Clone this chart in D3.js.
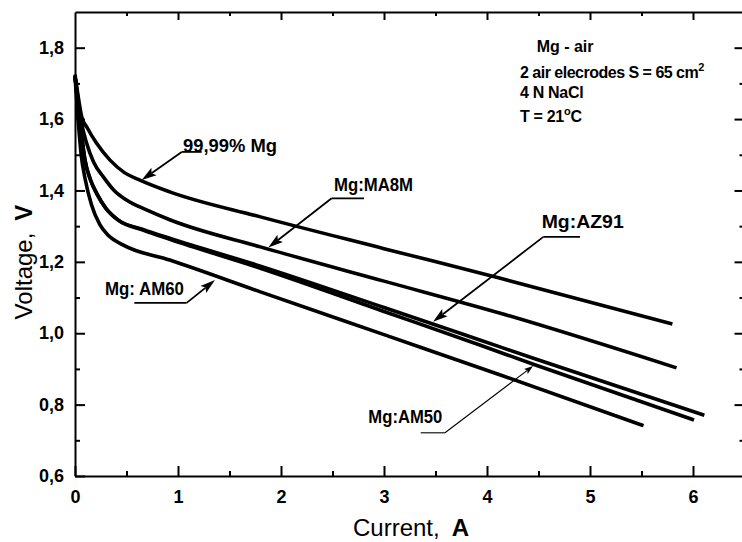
<!DOCTYPE html>
<html><head><meta charset="utf-8">
<script src="https://cdn.jsdelivr.net/npm/d3@7"></script>
<style>
html,body{margin:0;padding:0;background:#fff;}
svg{display:block;}
text{font-family:Arial,"Liberation Sans",Helvetica,sans-serif;fill:#000;}
</style></head><body>
<svg id="chart" width="742" height="542"></svg>
<script>
// ---------- data (current in A, voltage in V) ----------
const currentPure  = [0, 0.03, 0.065, 0.12, 0.21, 0.34, 0.48, 0.63, 0.92, 1.8, 3.0, 4.13, 5.8];
const voltagePure  = [1.725, 1.665, 1.607, 1.575, 1.532, 1.485, 1.450, 1.429, 1.396, 1.326, 1.237, 1.154, 1.026];

const currentMA8M  = [0, 0.03, 0.06, 0.113, 0.18, 0.275, 0.38, 0.5, 0.7, 0.92, 1.8, 3.0, 4.13, 5.84];
const voltageMA8M  = [1.72, 1.655, 1.595, 1.532, 1.48, 1.438, 1.40, 1.373, 1.345, 1.318, 1.242, 1.146, 1.056, 0.903];

const currentAZ91  = [0, 0.03, 0.06, 0.097, 0.15, 0.21, 0.3, 0.42, 0.66, 0.92, 1.8, 3.0, 3.93, 4.45, 6.11];
const voltageAZ91  = [1.72, 1.64, 1.565, 1.485, 1.43, 1.392, 1.35, 1.317, 1.291, 1.266, 1.188, 1.072, 0.981, 0.93, 0.770];

const currentAM50  = [0, 0.03, 0.06, 0.097, 0.15, 0.21, 0.3, 0.42, 0.66, 0.92, 1.8, 3.0, 3.93, 4.45, 6.01];
const voltageAM50  = [1.72, 1.64, 1.565, 1.485, 1.43, 1.392, 1.35, 1.317, 1.289, 1.263, 1.182, 1.061, 0.967, 0.913, 0.757];

const currentAM60  = [0, 0.03, 0.06, 0.1, 0.16, 0.24, 0.32, 0.47, 0.92, 1.8, 3.0, 4.13, 5.52];
const voltageAM60  = [1.72, 1.60, 1.50, 1.43, 1.36, 1.305, 1.275, 1.247, 1.205, 1.116, 0.996, 0.883, 0.741];

const xMajorTicks = [0, 1, 2, 3, 4, 5, 6];
const xTickLabels = ["0", "1", "2", "3", "4", "5", "6"];
const xMinorTicks = [0.5, 1.5, 2.5, 3.5, 4.5, 5.5];
const yMajorTicks = [0.6, 0.8, 1.0, 1.2, 1.4, 1.6, 1.8];
const yTickLabels = ["0,6", "0,8", "1,0", "1,2", "1,4", "1,6", "1,8"];
const yMinorTicks = [0.7, 0.9, 1.1, 1.3, 1.5, 1.7];

// curve labels: text, text anchor (A,V), underline from/to (A), underline V, leader start (A,V), arrow tip (A,V)
const labelNames   = ["99,99% Mg", "Mg:MA8M", "Mg:AZ91", "Mg: AM60", "Mg:AM50"];
const labelTextPos = [[1.048, 1.509], [2.515, 1.398], [4.531, 1.294], [0.291, 1.107], [2.848, 0.749]];
const labelWidths  = [94, 79, 82, 79, 74];
const underlineX   = [[1.036, 1.230], [2.492, 2.806], [4.547, 4.903], [0.576, 1.084], [3.356, 3.592]];
const underlineV   = [1.508, 1.378, 1.270, 1.085, 0.721];
const leaderStart  = [[1.036, 1.508], [2.492, 1.378], [4.547, 1.270], [1.084, 1.085], [3.592, 0.721]];
const arrowTip     = [[0.648, 1.429], [1.877, 1.240], [3.476, 1.032], [1.359, 1.149], [4.447, 0.908]];
const leaderThin   = [false, false, false, false, true];

const infoLines = ["Mg - air", "2 air elecrodes S = 65 cm", "4 N NaCl", "T = 21"];
const infoPos   = [[4.482, 1.788], [4.32, 1.714], [4.32, 1.658], [4.32, 1.592]];

// ---------- build ----------
const series = [
  {name: "99,99% Mg", I: currentPure, V: voltagePure},
  {name: "Mg:MA8M",  I: currentMA8M, V: voltageMA8M},
  {name: "Mg:AZ91",  I: currentAZ91, V: voltageAZ91},
  {name: "Mg:AM50",  I: currentAM50, V: voltageAM50},
  {name: "Mg:AM60",  I: currentAM60, V: voltageAM60}
];

const svg = d3.select("#chart");
const plotLeft = 75, plotTop = 12, plotBottom = 476;
const x = d3.scaleLinear().domain([0, 6.5]).range([plotLeft, plotLeft + 6.5 * 103]);
const y = d3.scaleLinear().domain([0.6, 1.9]).range([plotBottom, plotTop]);
const plotRight = x(6.5);

function styleAxis(g, fs) {
  g.select(".domain").attr("stroke", "#000").attr("stroke-width", 2);
  g.selectAll(".tick line").attr("stroke", "#000").attr("stroke-width", 2);
  g.selectAll(".tick text").attr("font-size", fs).attr("font-weight", "bold").attr("fill", "#000")
    .attr("font-family", "Arial, 'Liberation Sans', sans-serif");
}

// bottom axis
svg.append("g").attr("transform", `translate(0,${plotBottom})`)
  .call(d3.axisBottom(x).tickValues(xMajorTicks).tickSizeInner(-10).tickSizeOuter(0).tickPadding(14)
    .tickFormat((d, i) => xTickLabels[i]))
  .call(g => styleAxis(g, 18));
svg.append("g").attr("transform", `translate(0,${plotBottom})`)
  .call(d3.axisBottom(x).tickValues(xMinorTicks).tickSizeInner(-5).tickSizeOuter(0).tickFormat(""))
  .call(g => { styleAxis(g, 18); g.select(".domain").remove(); });

// top axis
svg.append("g").attr("transform", `translate(0,${plotTop})`)
  .call(d3.axisTop(x).tickValues(xMajorTicks.slice(1)).tickSizeInner(-8).tickSizeOuter(0).tickFormat(""))
  .call(g => styleAxis(g, 18));
svg.append("g").attr("transform", `translate(0,${plotTop})`)
  .call(d3.axisTop(x).tickValues(xMinorTicks).tickSizeInner(-4).tickSizeOuter(0).tickFormat(""))
  .call(g => { styleAxis(g, 18); g.select(".domain").remove(); });

// left axis
svg.append("g").attr("transform", `translate(${plotLeft},0)`)
  .call(d3.axisLeft(y).tickValues(yMajorTicks).tickSizeInner(-10).tickSizeOuter(0).tickPadding(11)
    .tickFormat((d, i) => yTickLabels[i]))
  .call(g => styleAxis(g, 18));
svg.append("g").attr("transform", `translate(${plotLeft},0)`)
  .call(d3.axisLeft(y).tickValues(yMinorTicks).tickSizeInner(-5).tickSizeOuter(0).tickFormat(""))
  .call(g => { styleAxis(g, 18); g.select(".domain").remove(); });

// right axis
svg.append("g").attr("transform", `translate(${plotRight},0)`)
  .call(d3.axisRight(y).tickValues(yMajorTicks.slice(1)).tickSizeInner(-10).tickSizeOuter(0).tickFormat(""))
  .call(g => styleAxis(g, 18));
svg.append("g").attr("transform", `translate(${plotRight},0)`)
  .call(d3.axisRight(y).tickValues(yMinorTicks).tickSizeInner(-5).tickSizeOuter(0).tickFormat(""))
  .call(g => { styleAxis(g, 18); g.select(".domain").remove(); });

// curves
const line = d3.line().x(d => x(d[0])).y(d => y(d[1])).curve(d3.curveMonotoneX);
svg.append("g").selectAll("path").data(series).join("path")
  .attr("d", s => line(s.I.map((v, i) => [v, s.V[i]])))
  .attr("fill", "none").attr("stroke", "#000").attr("stroke-width", 3.6)
  .attr("stroke-linejoin", "round").attr("stroke-linecap", "butt");

// curve labels with leaders
const ann = svg.append("g");
labelNames.forEach((name, i) => {
  const thin = leaderThin[i];
  const sw = thin ? 1.1 : 1.8;
  ann.append("text")
    .attr("x", x(labelTextPos[i][0])).attr("y", y(labelTextPos[i][1]))
    .attr("font-size", 18).attr("font-weight", "bold")
    .attr("textLength", labelWidths[i]).attr("lengthAdjust", "spacingAndGlyphs")
    .text(name);
  ann.append("line")
    .attr("x1", x(underlineX[i][0])).attr("x2", x(underlineX[i][1]))
    .attr("y1", y(underlineV[i])).attr("y2", y(underlineV[i]))
    .attr("stroke", "#000").attr("stroke-width", sw);
  const sx = x(leaderStart[i][0]), sy = y(leaderStart[i][1]);
  const tx = x(arrowTip[i][0]), ty = y(arrowTip[i][1]);
  const dx = tx - sx, dy = ty - sy, len = Math.hypot(dx, dy);
  const ux = dx / len, uy = dy / len, nx = -uy, ny = ux;
  const L = thin ? 9 : 15, W = thin ? 3 : 4.5;
  ann.append("line")
    .attr("x1", sx).attr("y1", sy).attr("x2", tx - ux * L * 0.8).attr("y2", ty - uy * L * 0.8)
    .attr("stroke", "#000").attr("stroke-width", sw);
  ann.append("polygon")
    .attr("points", [[tx, ty], [tx - ux * L + nx * W, ty - uy * L + ny * W], [tx - ux * L * 0.8, ty - uy * L * 0.8], [tx - ux * L - nx * W, ty - uy * L - ny * W]].map(p => p.join(",")).join(" "))
    .attr("fill", "#000");
});

// info text block
const info = svg.append("g").attr("font-size", 16).attr("font-weight", "bold");
info.append("text").attr("x", x(infoPos[0][0])).attr("y", y(infoPos[0][1])).text(infoLines[0]);
const t2 = info.append("text").attr("x", x(infoPos[1][0])).attr("y", y(infoPos[1][1])).attr("letter-spacing", -0.5);
t2.append("tspan").text(infoLines[1]);
t2.append("tspan").attr("dy", -7).attr("font-size", 11).text("2");
info.append("text").attr("x", x(infoPos[2][0])).attr("y", y(infoPos[2][1])).attr("letter-spacing", -0.3).text(infoLines[2]);
const t4 = info.append("text").attr("x", x(infoPos[3][0])).attr("y", y(infoPos[3][1])).attr("letter-spacing", -0.3);
t4.append("tspan").text(infoLines[3]);
t4.append("tspan").attr("dy", -7).attr("font-size", 11).text("o");
t4.append("tspan").attr("dy", 7).text("C");

// axis titles
const xt = svg.append("text").attr("x", 411).attr("y", 536).attr("text-anchor", "middle").attr("font-size", 24);
xt.append("tspan").text("Current,");
xt.append("tspan").attr("dx", 12).attr("font-weight", "bold").text("A");

const yt = svg.append("text").attr("transform", "translate(32,262) rotate(-90)").attr("text-anchor", "middle").attr("font-size", 24);
yt.append("tspan").text("Voltage,");
yt.append("tspan").attr("dx", 12).attr("font-weight", "bold").text("V");
</script>
</body></html>
